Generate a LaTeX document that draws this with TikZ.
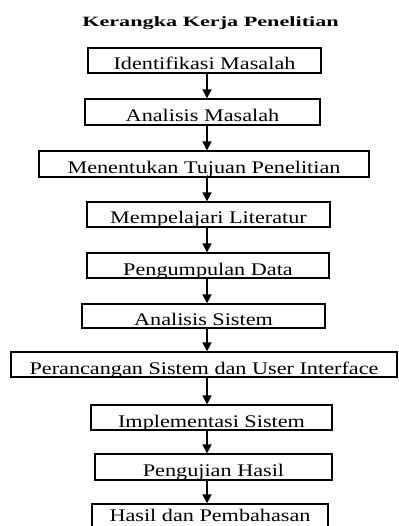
\documentclass[tikz,border=0pt]{standalone}
\usepackage{fontspec}
\usepackage{graphicx}
\setmainfont{Liberation Serif}
\usetikzlibrary{arrows.meta}
\tikzset{
  stepbox/.style={draw=black, line width=1.2pt, rectangle, inner sep=0pt,
    text height=19pt, text depth=0pt, font=\fontsize{22.2}{26}\selectfont},
  arr/.style={line width=1.6pt, -{Triangle[length=9pt,width=9pt]}},
  titletext/.style={inner sep=0pt, anchor=base, font=\fontsize{22.2}{26}\selectfont\bfseries}
}
\newcommand{\sq}[1]{\scalebox{1}[0.8]{#1}}
\begin{document}
\begin{tikzpicture}[x=1pt,y=-1pt]
\useasboundingbox[fill=white] (0,0) rectangle (398,526);
\coordinate (ax) at (207,0);
\node[titletext] (title) at (210.5,27) {\scalebox{1}[0.64]{Kerangka Kerja Penelitian}};
\node[stepbox, minimum width=233pt, minimum height=25pt] (b1) at (204.5,60.5) {\sq{Identifikasi Masalah}};
\node[stepbox, minimum width=235pt, minimum height=26pt] (b2) at (202.5,112) {\sq{Analisis Masalah}};
\node[stepbox, minimum width=330pt, minimum height=26pt] (b3) at (204,164) {\sq{Menentukan Tujuan Penelitian}};
\node[stepbox, minimum width=243pt, minimum height=25pt] (b4) at (208.5,214.5) {\sq{Mempelajari Literatur}};
\node[stepbox, minimum width=242pt, minimum height=25pt] (b5) at (208,265.5) {\sq{Pengumpulan Data}};
\node[stepbox, minimum width=243pt, minimum height=24pt] (b6) at (203.5,316) {\sq{Analisis Sistem}};
\node[stepbox, minimum width=386pt, minimum height=25pt] (b7) at (204,364.5) {\sq{Perancangan Sistem dan User Interface}};
\node[stepbox, minimum width=241pt, minimum height=25pt] (b8) at (211.5,417.5) {\sq{Implementasi Sistem}};
\node[stepbox, minimum width=237pt, minimum height=26pt] (b9) at (213.5,467) {\sq{Pengujian Hasil}};
\node[stepbox, minimum width=236pt, minimum height=25pt, text height=10pt] (b10) at (210,516.5) {\sq{Hasil dan Pembahasan}};
\foreach \a/\b in {b1/b2,b2/b3,b3/b4,b4/b5,b5/b6,b6/b7,b7/b8,b8/b9,b9/b10}{
  \draw[arr] (\a.south -| ax) -- (\b.north -| ax);
}
\end{tikzpicture}
\end{document}
